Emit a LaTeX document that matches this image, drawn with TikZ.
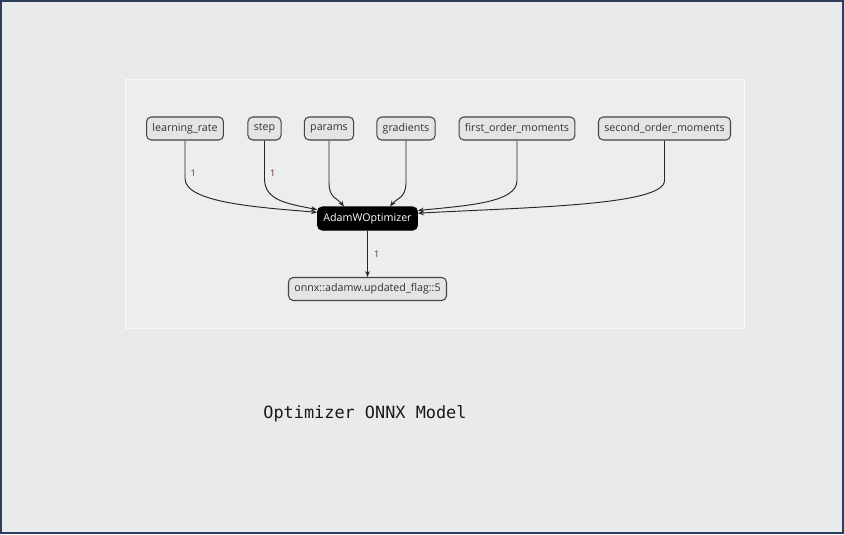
\documentclass[tikz,border=0pt]{standalone}
\usepackage{fontspec}
\setmainfont{Open Sans}
\newfontfamily\monofont{DejaVu Sans Mono}
\usetikzlibrary{positioning,calc,arrows.meta}
\definecolor{pagebg}{HTML}{E9EAEC}
\definecolor{panelbg}{HTML}{ECEDEF}
\definecolor{framecol}{HTML}{2E3D5E}
\definecolor{nodebg}{HTML}{E4E4E4}
\definecolor{nodeline}{HTML}{444444}
\definecolor{lblcol}{HTML}{5A2E2E}
\tikzset{
  tensor/.style={draw=nodeline,fill=nodebg,rounded corners=4pt,line width=0.9pt,
    minimum height=0.69cm,inner xsep=5pt,font=\fontsize{9.1}{10}\selectfont,text=black!80},
  opnode/.style={tensor,fill=black,draw=black,text=white},
  edge/.style={->,line width=0.8pt,draw=black!85},
  lbl/.style={font=\fontsize{7.8}{9}\selectfont,text=lblcol}
}
\begin{document}
\begin{tikzpicture}[x=0.03cm,y=-0.03cm,>={Stealth[length=5pt,width=4pt]}]

% page and panel
\fill[pagebg] (0,0) rectangle (844,534);
\draw[framecol,line width=1.6pt] (1,1) rectangle (843,533);
\draw[white!60!panelbg,line width=0.8pt,fill=panelbg] (125,79) rectangle (744,328);

% inputs
\node[tensor] (lr) at (185,128.5) {learning\_rate};
\node[tensor] (step) at (264.5,128.5) {step};
\node[tensor] (params) at (329,128.5) {params};
\node[tensor] (grads) at (406,128.5) {gradients};
\node[tensor] (m1) at (517,128.5) {first\_order\_moments};
\node[tensor] (m2) at (664.5,128.5) {second\_order\_moments};

% operator and output
\node[opnode] (adam) at (367.5,218.5) {AdamWOptimizer};
\node[tensor] (flag) at (367.5,289) {onnx::adamw.updated\_flag::5};

% edges into the operator
\draw[edge] (lr.south) -- node[pos=0.85,right=1pt,lbl] {1} ($(lr.south)+(0,38)$)
  .. controls ($(lr.south)+(0,62)$) and ($(adam.173)+(-60,-5)$) .. (adam.173);
\draw[edge] (step.south) -- node[pos=0.85,right=1pt,lbl] {1} ($(step.south)+(0,38)$)
  .. controls ($(step.south)+(0,60)$) and ($(adam.170)+(-30,-6)$) .. (adam.170);
\draw[edge] (params.south) -- ($(params.south)+(0,42)$)
  .. controls ($(params.south)+(0,58)$) and ($(adam.153)+(-6,-8)$) .. (adam.153);
\draw[edge] (grads.south) -- ($(grads.south)+(0,42)$)
  .. controls ($(grads.south)+(0,58)$) and ($(adam.28)+(6,-8)$) .. (adam.28);
\draw[edge] (m1.south) -- ($(m1.south)+(0,40)$)
  .. controls ($(m1.south)+(0,62)$) and ($(adam.9)+(50,-5)$) .. (adam.9);
\draw[edge] (m2.south) -- ($(m2.south)+(0,40)$)
  .. controls ($(m2.south)+(0,65)$) and ($(adam.6)+(110,-6)$) .. (adam.6);

% output edge
\draw[edge] (adam.south) -- node[pos=0.5,right=2pt,lbl] {1} (flag.north);

% caption
\node[font=\monofont\fontsize{14.4}{16}\selectfont,text=black!90] (title) at (365,414) {Optimizer ONNX Model};

\end{tikzpicture}
\end{document}
